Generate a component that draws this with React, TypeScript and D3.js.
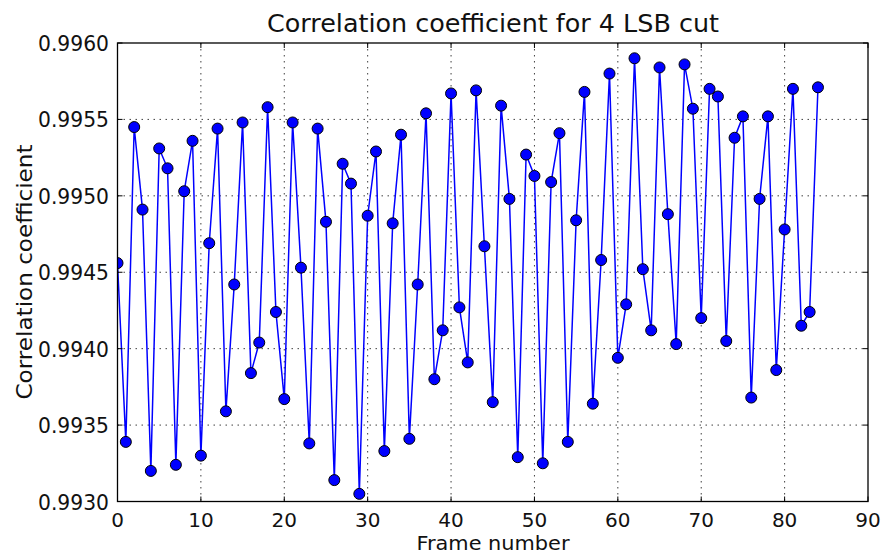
import { useEffect, useRef } from 'react';
import * as d3 from 'd3';

// frame index 0..84
const frames = d3.range(0, 85);

const correlation = [
  0.99456, 0.99339, 0.99545, 0.99491, 0.99320, 0.99531, 0.99518, 0.99324, 0.99503, 0.99536,
  0.99330, 0.99469, 0.99544, 0.99359, 0.99442, 0.99548, 0.99384, 0.99404, 0.99558, 0.99424,
  0.99367, 0.99548, 0.99453, 0.99338, 0.99544, 0.99483, 0.99314, 0.99521, 0.99508, 0.99305,
  0.99487, 0.99529, 0.99333, 0.99482, 0.99540, 0.99341, 0.99442, 0.99554, 0.99380, 0.99412,
  0.99567, 0.99427, 0.99391, 0.99569, 0.99467, 0.99365, 0.99559, 0.99498, 0.99329, 0.99527,
  0.99513, 0.99325, 0.99509, 0.99541, 0.99339, 0.99484, 0.99568, 0.99364, 0.99458, 0.99580,
  0.99394, 0.99429, 0.99590, 0.99452, 0.99412, 0.99584, 0.99488, 0.99403, 0.99586, 0.99557,
  0.99420, 0.99570, 0.99565, 0.99405, 0.99538, 0.99552, 0.99368, 0.99498, 0.99552, 0.99386,
  0.99478, 0.99570, 0.99415, 0.99424, 0.99571,
];

const xTicks = [0, 10, 20, 30, 40, 50, 60, 70, 80, 90];
const yTicks = [0.993, 0.9935, 0.994, 0.9945, 0.995, 0.9955, 0.996];

const title = 'Correlation coefficient for 4 LSB cut';
const xLabel = 'Frame number';
const yLabel = 'Correlation coefficient';

export default function App() {
  const svgRef = useRef<SVGSVGElement>(null);

  useEffect(() => {
    const W = 883;
    const H = 556;
    const margin = { top: 43, right: 15, bottom: 54, left: 117.5 };
    const font = "'DejaVu Sans', sans-serif";

    const svg = d3.select(svgRef.current);
    svg.selectAll('*').remove();
    svg.attr('width', W).attr('height', H);

    svg.append('rect').attr('width', W).attr('height', H).attr('fill', '#fff');

    const x = d3.scaleLinear().domain([0, 90]).range([margin.left, W - margin.right]);
    const y = d3.scaleLinear().domain([0.993, 0.996]).range([H - margin.bottom - 0.5, margin.top]);

    const [x0, x1] = x.range();
    const [y0, y1] = y.range();

    // grid
    const grid = svg.append('g')
      .attr('stroke', '#000')
      .attr('stroke-width', 1)
      .attr('stroke-dasharray', '1.5,4.5')
      .attr('opacity', 0.75);
    grid.selectAll('line.gx')
      .data(xTicks.slice(1, -1))
      .enter().append('line')
      .attr('x1', d => x(d)).attr('x2', d => x(d))
      .attr('y1', y1).attr('y2', y0);
    grid.selectAll('line.gy')
      .data(yTicks.slice(1, -1))
      .enter().append('line')
      .attr('x1', x0).attr('x2', x1)
      .attr('y1', d => y(d)).attr('y2', d => y(d));

    // line + markers
    const pts = frames.map((f, i) => ({ f, v: correlation[i] }));
    const line = d3.line<{ f: number; v: number }>()
      .x(d => x(d.f))
      .y(d => y(d.v));

    const clip = svg.append('defs').append('clipPath').attr('id', 'plot-clip');
    clip.append('rect').attr('x', x0).attr('y', y1).attr('width', x1 - x0).attr('height', y0 - y1);

    const plot = svg.append('g').attr('clip-path', 'url(#plot-clip)');
    plot.append('path')
      .datum(pts)
      .attr('fill', 'none')
      .attr('stroke', '#0000ff')
      .attr('stroke-width', 1.5)
      .attr('d', line);

    plot.selectAll('circle')
      .data(pts)
      .enter().append('circle')
      .attr('cx', d => x(d.f))
      .attr('cy', d => y(d.v))
      .attr('r', 5.5)
      .attr('fill', '#0000ff')
      .attr('stroke', '#000')
      .attr('stroke-width', 1);

    // ticks (inward, all sides)
    const ticks = svg.append('g').attr('stroke', '#000').attr('stroke-width', 1);
    xTicks.forEach(t => {
      ticks.append('line').attr('x1', x(t)).attr('x2', x(t)).attr('y1', y0).attr('y2', y0 - 5);
      ticks.append('line').attr('x1', x(t)).attr('x2', x(t)).attr('y1', y1).attr('y2', y1 + 5);
    });
    yTicks.forEach(t => {
      ticks.append('line').attr('x1', x0).attr('x2', x0 + 5).attr('y1', y(t)).attr('y2', y(t));
      ticks.append('line').attr('x1', x1).attr('x2', x1 - 5).attr('y1', y(t)).attr('y2', y(t));
    });

    // frame
    svg.append('rect')
      .attr('x', x0).attr('y', y1)
      .attr('width', x1 - x0).attr('height', y0 - y1)
      .attr('fill', 'none')
      .attr('stroke', '#000')
      .attr('stroke-width', 1.3);

    // tick labels
    svg.append('g').selectAll('text')
      .data(xTicks)
      .enter().append('text')
      .attr('x', d => x(d))
      .attr('y', 527)
      .attr('text-anchor', 'middle')
      .attr('font-family', font)
      .attr('font-size', 20)
      .attr('fill', '#111')
      .text(d => d3.format('d')(d));

    svg.append('g').selectAll('text')
      .data(yTicks)
      .enter().append('text')
      .attr('x', 109)
      .attr('y', d => y(d) + 8)
      .attr('text-anchor', 'end')
      .attr('font-family', font)
      .attr('font-size', 21)
      .attr('fill', '#111')
      .attr('textLength', 71)
      .attr('lengthAdjust', 'spacingAndGlyphs')
      .text(d => d3.format('.4f')(d));

    // title + axis labels
    svg.append('text')
      .attr('x', 493).attr('y', 32)
      .attr('text-anchor', 'middle')
      .attr('font-family', font)
      .attr('font-size', 24)
      .attr('fill', '#111')
      .attr('textLength', 452)
      .attr('lengthAdjust', 'spacingAndGlyphs')
      .text(title);

    svg.append('text')
      .attr('x', 493).attr('y', 550)
      .attr('text-anchor', 'middle')
      .attr('font-family', font)
      .attr('font-size', 20)
      .attr('fill', '#111')
      .attr('textLength', 153)
      .attr('lengthAdjust', 'spacingAndGlyphs')
      .text(xLabel);

    svg.append('text')
      .attr('transform', 'translate(32,272) rotate(-90)')
      .attr('text-anchor', 'middle')
      .attr('font-family', font)
      .attr('font-size', 21)
      .attr('fill', '#111')
      .attr('textLength', 255)
      .attr('lengthAdjust', 'spacingAndGlyphs')
      .text(yLabel);
  }, []);

  return (
    <div style={{ position: 'absolute', left: 0, top: 0 }}>
      <svg ref={svgRef} style={{ display: 'block' }}></svg>
    </div>
  );
}
